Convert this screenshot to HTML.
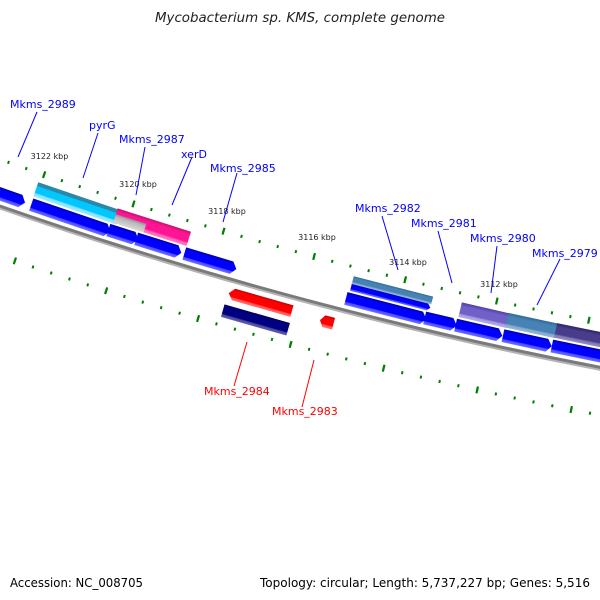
<!DOCTYPE html>
<html><head><meta charset="utf-8"><style>
html,body{margin:0;padding:0;background:#fff;}
svg{display:block;font-family:"DejaVu Sans","Liberation Sans",sans-serif;}
</style></head><body>
<svg width="600" height="600" viewBox="0 0 600 600" xmlns="http://www.w3.org/2000/svg">
<defs>
<linearGradient id="gb" x1="0" y1="0" x2="0" y2="1"><stop offset="0" stop-color="#0000a0"/><stop offset="0.22" stop-color="#0000ff"/><stop offset="0.72" stop-color="#0000ff"/><stop offset="0.78" stop-color="#4848ff"/><stop offset="1" stop-color="#7070ff"/></linearGradient>
<linearGradient id="gc" x1="0" y1="0" x2="0" y2="1"><stop offset="0" stop-color="#2a88a8"/><stop offset="0.25" stop-color="#2a88a8"/><stop offset="0.28" stop-color="#00c8ff"/><stop offset="0.72" stop-color="#00c8ff"/><stop offset="0.78" stop-color="#80e0ff"/><stop offset="1" stop-color="#a0ecff"/></linearGradient>
<linearGradient id="gp" x1="0" y1="0" x2="0" y2="1"><stop offset="0" stop-color="#c0106f"/><stop offset="0.22" stop-color="#ff1493"/><stop offset="0.72" stop-color="#ff1493"/><stop offset="0.8" stop-color="#ff60b8"/><stop offset="1" stop-color="#ff80c8"/></linearGradient>
<linearGradient id="gg" x1="0" y1="0" x2="0" y2="1"><stop offset="0" stop-color="#909090"/><stop offset="0.3" stop-color="#b8b8b8"/><stop offset="1" stop-color="#d8d8d8"/></linearGradient>
<linearGradient id="gs" x1="0" y1="0" x2="0" y2="1"><stop offset="0" stop-color="#2f6a94"/><stop offset="0.25" stop-color="#4682b4"/><stop offset="0.72" stop-color="#4682b4"/><stop offset="0.8" stop-color="#80a8cc"/><stop offset="1" stop-color="#98b8d8"/></linearGradient>
<linearGradient id="gm" x1="0" y1="0" x2="0" y2="1"><stop offset="0" stop-color="#5040a0"/><stop offset="0.25" stop-color="#7060c8"/><stop offset="0.72" stop-color="#7060c8"/><stop offset="0.8" stop-color="#a098dc"/><stop offset="1" stop-color="#b8b0e8"/></linearGradient>
<linearGradient id="gd" x1="0" y1="0" x2="0" y2="1"><stop offset="0" stop-color="#2c2460"/><stop offset="0.25" stop-color="#483d8b"/><stop offset="0.72" stop-color="#483d8b"/><stop offset="0.8" stop-color="#7c74b0"/><stop offset="1" stop-color="#9890c0"/></linearGradient>
<linearGradient id="gr" x1="0" y1="0" x2="0" y2="1"><stop offset="0" stop-color="#c00000"/><stop offset="0.2" stop-color="#ff0000"/><stop offset="0.72" stop-color="#ff0000"/><stop offset="0.8" stop-color="#ff5050"/><stop offset="1" stop-color="#ff7070"/></linearGradient>
<linearGradient id="gn" x1="0" y1="0" x2="0" y2="1"><stop offset="0" stop-color="#000060"/><stop offset="0.2" stop-color="#000080"/><stop offset="0.72" stop-color="#000080"/><stop offset="0.8" stop-color="#4848a0"/><stop offset="1" stop-color="#6060b0"/></linearGradient>
</defs>

<text x="300" y="22" text-anchor="middle" font-size="13" font-style="italic" fill="#222" textLength="290" lengthAdjust="spacingAndGlyphs">Mycobacterium sp. KMS, complete genome</text>

<path d="M -24.9 199.5 A 4305.5 4305.5 0 0 0 803.7 403.8" fill="none" stroke="#b4b4b4" stroke-width="2.5"/>
<path d="M -24.9 197.3 A 4303 4303 0 0 0 803.7 401.5" fill="none" stroke="#7a7a7a" stroke-width="3"/>

<path d="M -10.2 155.8 A 4259 4259 0 0 0 810 357.9" fill="none" stroke="#008000" stroke-width="3" stroke-dasharray="2 16.81"/>
<path d="M -10.2 155.8 A 4259 4259 0 0 0 810 357.9" fill="none" stroke="#008000" stroke-width="7" stroke-dasharray="2.2 91.84" stroke-dashoffset="37.61"/>
<path d="M -40.6 241.6 A 4350 4350 0 0 0 797.1 448.0" fill="none" stroke="#008000" stroke-width="3" stroke-dasharray="2 17.21"/>
<path d="M -40.6 241.6 A 4350 4350 0 0 0 797.1 448.0" fill="none" stroke="#008000" stroke-width="7" stroke-dasharray="2.2 93.85" stroke-dashoffset="38.42"/>

<g font-size="8" fill="#222" text-anchor="middle">
<text x="49.5" y="159">3122 kbp</text>
<text x="138" y="187">3120 kbp</text>
<text x="227" y="214">3118 kbp</text>
<text x="317" y="240">3116 kbp</text>
<text x="408" y="265">3114 kbp</text>
<text x="499" y="287">3112 kbp</text>
</g>

<g fill="url(#gb)">
<g transform="rotate(19.324 1414 -3858) translate(1414 445)"><polygon points="0,-18 28,-18 33,-11.5 28,-5 0,-5"/></g>
<g transform="rotate(18.797 1414 -3858) translate(1414 445)"><polygon points="0,-18 78.5,-18 83.5,-11.5 78.5,-5 0,-5"/></g>
<g transform="rotate(17.713 1414 -3858) translate(1414 445)"><polygon points="0,-18 26.5,-18 31.5,-11.5 26.5,-5 0,-5"/></g>
<g transform="rotate(17.323 1414 -3858) translate(1414 445)"><polygon points="0,-18 42.3,-18 47.3,-11.5 42.3,-5 0,-5"/></g>
<g transform="rotate(16.651 1414 -3858) translate(1414 445)"><polygon points="0,-18 49.3,-18 54.3,-11.5 49.3,-5 0,-5"/></g>
<g transform="rotate(14.412 1414 -3858) translate(1414 445)"><polygon points="0,-18 78,-18 83,-11.5 78,-5 0,-5"/></g>
<g transform="rotate(13.329 1414 -3858) translate(1414 445)"><polygon points="0,-18 28,-18 33,-11.5 28,-5 0,-5"/></g>
<g transform="rotate(12.905 1414 -3858) translate(1414 445)"><polygon points="0,-18 43,-18 48,-11.5 43,-5 0,-5"/></g>
<g transform="rotate(12.257 1414 -3858) translate(1414 445)"><polygon points="0,-18 45,-18 50,-11.5 45,-5 0,-5"/></g>
<g transform="rotate(11.590 1414 -3858) translate(1414 445)"><polygon points="0,-18 55,-18 60,-11.5 55,-5 0,-5"/></g>
</g>

<g transform="rotate(18.804 1414 -3858) translate(1414 445)"><rect x="0" y="-35" width="87" height="15" fill="url(#gc)"/></g>
<g transform="rotate(17.682 1414 -3858) translate(1414 445)"><rect x="0" y="-35" width="77" height="15" fill="url(#gp)"/><rect x="0" y="-29" width="32" height="9" fill="url(#gg)"/></g>
<g transform="rotate(14.384 1414 -3858) translate(1414 445)"><rect x="0" y="-35" width="82" height="8" fill="url(#gs)"/><polygon points="0,-27 79,-27 82,-23.5 79,-20 0,-20" fill="url(#gb)"/></g>
<g transform="rotate(12.891 1414 -3858) translate(1414 445)"><rect x="0" y="-35" width="49" height="15" fill="url(#gm)"/></g>
<g transform="rotate(12.250 1414 -3858) translate(1414 445)"><rect x="0" y="-35" width="51" height="15" fill="url(#gs)"/></g>
<g transform="rotate(11.583 1414 -3858) translate(1414 445)"><rect x="0" y="-35" width="70" height="15" fill="url(#gd)"/></g>

<g transform="rotate(15.935 1414 -3858) translate(1414 445)"><polygon points="0,14 5,8 65.6,8 65.6,20 5,20" fill="url(#gr)"/><rect x="-1" y="26" width="68" height="13" fill="url(#gn)"/></g>
<g transform="rotate(14.673 1414 -3858) translate(1414 445)"><polygon points="0,16 4,10 14,10 14,22 4,22" fill="url(#gr)"/></g>

<g stroke="#0000ff" stroke-width="1">
<line x1="37" y1="112" x2="18" y2="157"/>
<line x1="98" y1="133" x2="83" y2="178"/>
<line x1="145" y1="147" x2="136" y2="195"/>
<line x1="192" y1="157" x2="172" y2="205"/>
<line x1="237" y1="173" x2="223" y2="222"/>
<line x1="382" y1="216" x2="398" y2="270"/>
<line x1="438" y1="231" x2="452" y2="283"/>
<line x1="497" y1="246" x2="491" y2="293"/>
<line x1="560" y1="259" x2="537" y2="305"/>
</g>
<g stroke="#ff0000" stroke-width="1">
<line x1="247" y1="342" x2="234" y2="386"/>
<line x1="314" y1="360" x2="302" y2="407"/>
</g>
<g font-size="11" fill="#0000ff">
<text x="10" y="108">Mkms_2989</text>
<text x="89" y="129">pyrG</text>
<text x="119" y="143">Mkms_2987</text>
<text x="181" y="158">xerD</text>
<text x="210" y="172">Mkms_2985</text>
<text x="355" y="212">Mkms_2982</text>
<text x="411" y="227">Mkms_2981</text>
<text x="470" y="242">Mkms_2980</text>
<text x="532" y="257">Mkms_2979</text>
</g>
<g font-size="11" fill="#ff0000">
<text x="204" y="395">Mkms_2984</text>
<text x="272" y="415">Mkms_2983</text>
</g>

<text x="10" y="587" font-size="12" fill="#000" textLength="133" lengthAdjust="spacingAndGlyphs">Accession: NC_008705</text>
<text x="590" y="587" font-size="12" fill="#000" text-anchor="end" textLength="330" lengthAdjust="spacingAndGlyphs">Topology: circular; Length: 5,737,227 bp; Genes: 5,516</text>
</svg>
</body></html>
